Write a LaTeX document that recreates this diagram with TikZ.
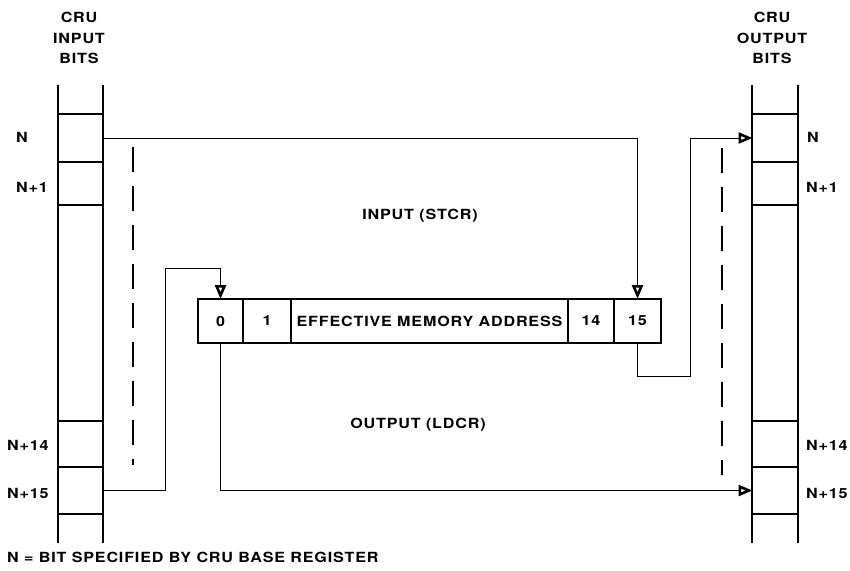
\documentclass[tikz,border=0pt]{standalone}
\usepackage{fontspec}
\setmainfont{TeX Gyre Heros}[FakeStretch=1.15,LetterSpace=6]
\usetikzlibrary{
  arrows.meta,
  positioning,  % Function "of" (e.g. [right=of x])
}
\tikzset{
  font=\bfseries\fontsize{14}{20.5}\selectfont,
  x=1pt,
  y=-1pt,
  >={Triangle[open,length=14pt,width=11pt,line width=2.6pt]},
  column line/.style={
    line width=1.5pt
  },
  bit cell/.style={
    draw,
    line width=1.5pt,
    minimum width=45pt,
    inner sep=0pt,
    outer sep=0pt,
    rectangle
  },
  reg cell/.style={
    draw,
    line width=1.2pt,
    minimum height=44pt,
    inner sep=0pt,
    outer sep=0pt,
    node distance=0pt,
    rectangle
  },
  link/.style={
    line width=1pt
  },
  guide/.style={
    line width=1.4pt,
    dash pattern=on 25pt off 14pt
  },
  side label/.style={
    inner sep=0pt
  },
  head/.style={
    align=center,
    inner sep=0pt
  }
}

\begin{document}
\begin{tikzpicture}
\useasboundingbox (0,0) rectangle (850,570);
% Headers
\node[head] (inhead)  at (79,38)  {CRU\\INPUT\\BITS};
\node[head] (outhead) at (772,38) {CRU\\OUTPUT\\BITS};
% Input column
\draw[column line] (58,85) -- (58,543);
\draw[column line] (103,85) -- (103,543);
\node[bit cell,minimum height=48pt] (in0)  at (80.5,138)   {};
\node[bit cell,minimum height=43pt] (in1)  at (80.5,183.5) {};
\node[bit cell,minimum height=46pt] (in14) at (80.5,444)   {};
\node[bit cell,minimum height=47pt] (in15) at (80.5,490.5) {};
\node[side label,anchor=west] at (16,137) {N};
\node[side label,anchor=west] at (16,187) {N+1};
\node[side label,anchor=west] at (7,445)  {N+14};
\node[side label,anchor=west] at (7,493)  {N+15};
% Output column
\draw[column line] (752,85) -- (752,543);
\draw[column line] (798,85) -- (798,543);
\node[bit cell,minimum height=48pt] (out0)  at (775,138)   {};
\node[bit cell,minimum height=43pt] (out1)  at (775,183.5) {};
\node[bit cell,minimum height=46pt] (out14) at (775,444)   {};
\node[bit cell,minimum height=47pt] (out15) at (775,490.5) {};
\node[side label,anchor=west] at (807,137) {N};
\node[side label,anchor=west] at (806,187) {N+1};
\node[side label,anchor=west] at (806,445) {N+14};
\node[side label,anchor=west] at (806,493) {N+15};
% Memory word
\node[reg cell,minimum width=45pt]  (b0)  at (220.5,321) {0};
\node[reg cell,minimum width=48pt]  (b1)  [right=of b0]  {1};
\node[reg cell,minimum width=277pt] (ema) [right=of b1]  {EFFECTIVE MEMORY ADDRESS};
\node[reg cell,minimum width=46pt]  (b14) [right=of ema] {14};
\node[reg cell,minimum width=47pt]  (b15) [right=of b14] {15};
% Transfer labels
\node (inlab)  at (420,216) {INPUT (STCR)};
\node (outlab) at (418,425) {OUTPUT (LDCR)};
% Input path
\coordinate (up)   at (165,268);
\draw[link,->] (in0.east) -| (b15.north);
\draw[link,->] (in15.east) -| (up) -| (b0.north);
% Output path
\coordinate (down) at (690,376);
\draw[link,->] (b15.south) |- (down) |- (out0.west);
\draw[link,->] (b0.south) |- (out15.west);
% Dashed guides
\coordinate (ltop) at (133,147);
\coordinate (lbot) at (133,465);
\coordinate (rtop) at (722,148);
\coordinate (rbot) at (722,475);
\draw[guide] (ltop) -- (lbot);
\draw[guide] (rtop) -- (rbot);
% Footnote
\node[anchor=west,inner sep=0pt] (note) at (7,557) {N = BIT SPECIFIED BY CRU BASE REGISTER};
\end{tikzpicture}
\end{document}
